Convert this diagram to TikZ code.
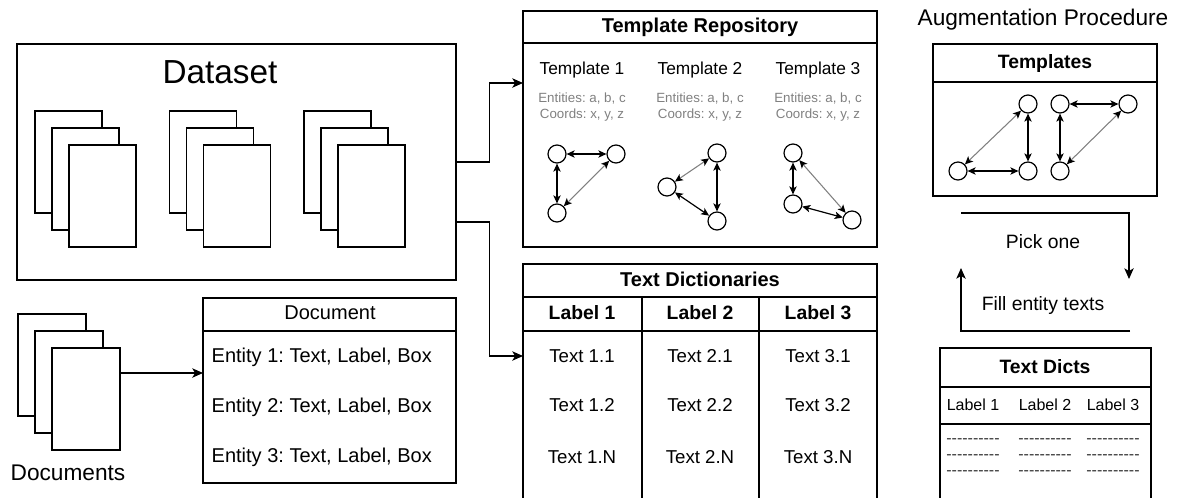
\documentclass[tikz,border=0pt]{standalone}
\usepackage{fontspec}
\setmainfont{Liberation Sans}
\usetikzlibrary{positioning,calc,fit,arrows.meta}
\frenchspacing

\newcommand\dashrow{-{}-{}-{}-{}-{}-{}-{}-{}-{}-}

\tikzset{
  box/.style={draw, line width=1pt, inner sep=0pt},
  page/.style={draw, fill=white, line width=1pt, inner sep=0pt},
  sep/.style={line width=1pt},
  vtx/.style={circle, draw, fill=white, line width=0.9pt, minimum size=13.5pt, inner sep=0pt},
  conn/.style={-{Stealth[length=8pt,width=7pt,inset=2pt]}, line width=1pt},
  link/.style={{Stealth[length=6pt,width=5.5pt,inset=1.5pt]}-{Stealth[length=6pt,width=5.5pt,inset=1.5pt]}, line width=0.9pt},
  glink/.style={{Stealth[length=6pt,width=5.5pt,inset=1.5pt,color=black]}-{Stealth[length=6pt,width=5.5pt,inset=1.5pt,color=black]}, draw=gray, line width=0.8pt},
  head/.style={font=\fontsize{15}{18}\selectfont\bfseries},
  txt/.style={font=\fontsize{15}{18}\selectfont},
  small/.style={font=\fontsize{14}{16}\selectfont},
  tiny/.style={font=\fontsize{10}{12}\selectfont, text=gray, align=center},
  dashes/.style={font=\fontsize{12}{12}\selectfont, inner sep=0pt, text height=4pt, text depth=0pt, text=black!80},
}

\begin{document}
\begin{tikzpicture}[x=0.75pt, y=-0.75pt]
  \useasboundingbox (0,0) rectangle (1181,497);

  % dataset
  \node[box, fit={(17,44) (456,280)}] (dataset) {};
  \node[font=\fontsize{25}{30}\selectfont] (dstitle) at (220,72) {Dataset};
  \foreach \s in {0,1,2}{
    \foreach \k in {0,1,2}{
      \node[page, fit={({35+134.5*\s+17*\k},{111+17*\k}) ({102+134.5*\s+17*\k},{213+17*\k})}] (pg-\s-\k) {};
    }
  }

  % template repository
  \node[box, fit={(523,11) (877,247)}] (repo) {};
  \draw[sep] (repo.west |- 0,43) -- (repo.east |- 0,43);
  \node[head] (repotitle) at (700,27) {Template Repository};
  \foreach \i/\x in {1/582,2/700,3/818}{
    \node[font=\fontsize{13}{15}\selectfont] (tpl-\i) at (\x,70) {Template \i};
    \node[tiny] (tplinfo-\i) at (\x,107) {Entities: a, b, c\\Coords: x, y, z};
  }
  \node[vtx] (g1a) at (557,154) {};
  \node[vtx] (g1b) at (616,154) {};
  \node[vtx] (g1c) at (557,213) {};
  \draw[link] (g1a) -- (g1b);
  \draw[link] (g1a) -- (g1c);
  \draw[glink] (g1b) -- (g1c);
  \node[vtx] (g2a) at (717,153) {};
  \node[vtx] (g2b) at (667,187) {};
  \node[vtx] (g2c) at (717,221) {};
  \draw[link] (g2a) -- (g2c);
  \draw[glink] (g2b) -- (g2a);
  \draw[link] (g2b) -- (g2c);
  \node[vtx] (g3a) at (793,153) {};
  \node[vtx] (g3b) at (793,204) {};
  \node[vtx] (g3c) at (852,220) {};
  \draw[link] (g3a) -- (g3b);
  \draw[glink] (g3a) -- (g3c);
  \draw[link] (g3b) -- (g3c);

  % text dictionaries
  \node[box, fit={(523,264) (877,510)}] (dicts) {};
  \draw[sep] (dicts.west |- 0,297) -- (dicts.east |- 0,297);
  \draw[sep] (dicts.west |- 0,331) -- (dicts.east |- 0,331);
  \draw[sep] (642,297) -- (642,297 |- dicts.south);
  \draw[sep] (759,297) -- (759,297 |- dicts.south);
  \node[head] (dictstitle) at (700,279) {Text Dictionaries};
  \foreach \i/\x in {1/582,2/700,3/818}{
    \node[font=\fontsize{14.5}{17}\selectfont\bfseries] (lbl-\i) at (\x,313) {Label \i};
    \node[small] (txt-\i-1) at (\x,356) {Text \i.1};
    \node[small] (txt-\i-2) at (\x,405) {Text \i.2};
    \node[small] (txt-\i-n) at (\x,457) {Text \i.N};
  }

  % documents
  \foreach \k in {0,1,2}{
    \node[page, fit={({18+17*\k},{314+17*\k}) ({86+17*\k},{416+17*\k})}] (doc-\k) {};
  }
  \node[font=\fontsize{17}{20}\selectfont] (doclabel) at (68,473) {Documents};
  \node[box, fit={(203,298) (456,483)}] (docbox) {};
  \draw[sep] (docbox.west |- 0,331) -- (docbox.east |- 0,331);
  \node[txt] (doctitle) at (330,313) {Document};
  \foreach \i/\y in {1/357,2/407,3/457}{
    \node[txt, anchor=west] (ent-\i) at (207,\y) {Entity \i: Text, Label, Box};
  }

  % connectors
  \coordinate (repoin) at (523,83);
  \coordinate (dictin) at (523,356);
  \coordinate (docin) at (203,373);
  \draw[conn] (dataset.east) -- ++(33,0) |- (repoin);
  \draw[conn] ($(dataset.east)+(0,60)$) -- ++(33,0) |- (dictin);
  \draw[conn] (doc-2.east |- docin) -- (docin);

  % augmentation procedure
  \node[font=\fontsize{17}{20}\selectfont] (augtitle) at (1043,20) {Augmentation Procedure};
  \node[box, fit={(933,44) (1157,196)}] (tmpl) {};
  \draw[sep] (tmpl.west |- 0,82) -- (tmpl.east |- 0,82);
  \node[font=\fontsize{14.5}{17}\selectfont\bfseries] (tmpltitle) at (1045,63) {Templates};
  \node[vtx] (t1) at (958,171) {};
  \node[vtx] (t2) at (1028,171) {};
  \node[vtx] (t3) at (1028,104) {};
  \node[vtx] (t4) at (1060,104) {};
  \node[vtx] (t5) at (1060,171) {};
  \node[vtx] (t6) at (1128,104) {};
  \draw[glink] (t1) -- (t3);
  \draw[link] (t3) -- (t2);
  \draw[link] (t1) -- (t2);
  \draw[link] (t4) -- (t5);
  \draw[link] (t4) -- (t6);
  \draw[glink] (t6) -- (t5);

  \coordinate (pick-a) at (961,213);
  \coordinate (pick-b) at (1129,279);
  \draw[conn] (pick-a) -| (pick-b);
  \node[font=\fontsize{14.5}{17}\selectfont] (picklbl) at (1043,242) {Pick one};
  \coordinate (fill-a) at (1130,331);
  \coordinate (fill-b) at (961,268);
  \draw[conn] (fill-a) -| (fill-b);
  \node[font=\fontsize{14.5}{17}\selectfont] (filllbl) at (1043,305) {Fill entity texts};

  % text dicts
  \node[box, fit={(940,348) (1151,510)}] (tdict) {};
  \draw[sep] (tdict.west |- 0,387) -- (tdict.east |- 0,387);
  \draw[sep] (tdict.west |- 0,424) -- (tdict.east |- 0,424);
  \node[font=\fontsize{14.5}{17}\selectfont\bfseries] (tdicttitle) at (1045,367) {Text Dicts};
  \foreach \i/\x in {1/973,2/1045,3/1113}{
    \node[font=\fontsize{12}{14}\selectfont] (tlbl-\i) at (\x,405) {Label \i};
    \foreach \r/\y in {1/441,2/457,3/473}{
      \node[dashes] (dash-\i-\r) at (\x,\y) {\dashrow};
    }
  }
\end{tikzpicture}
\end{document}
